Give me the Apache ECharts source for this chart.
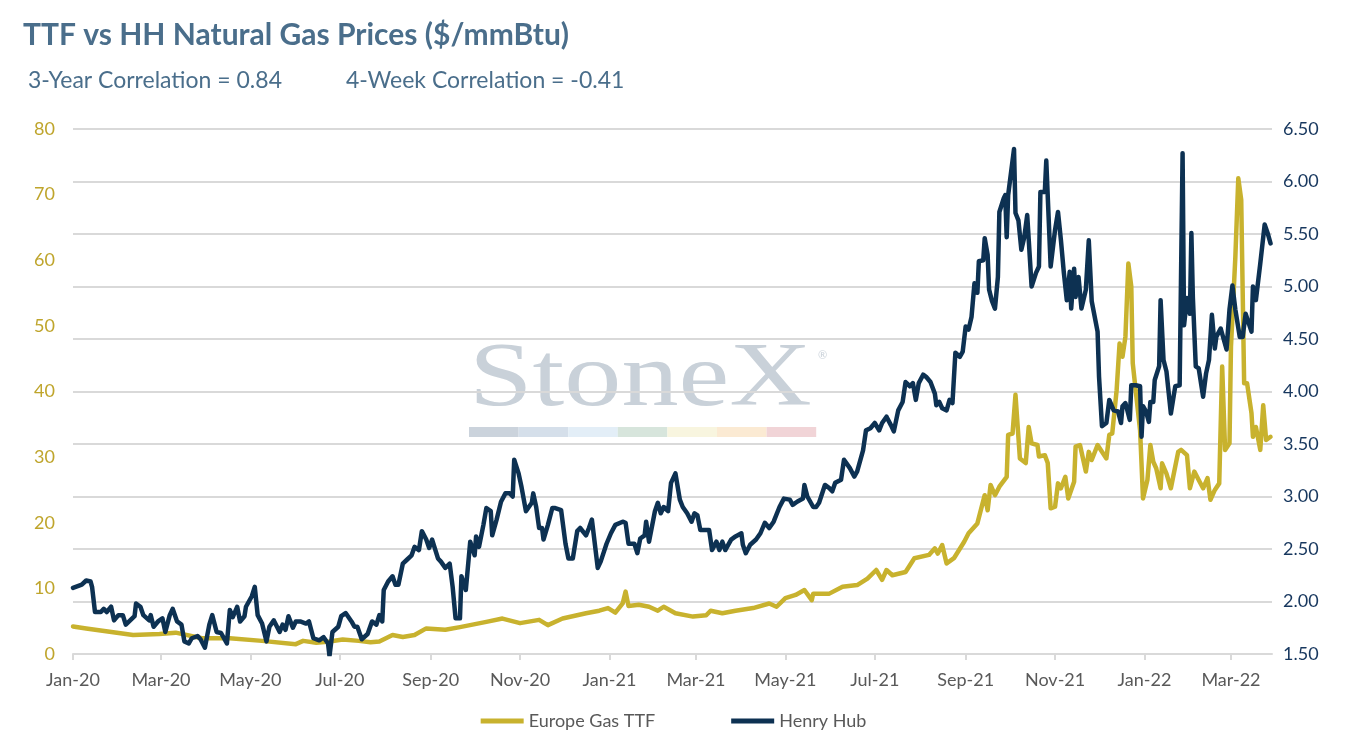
<!DOCTYPE html>
<html>
<head>
<meta charset="utf-8">
<script src="https://cdn.jsdelivr.net/npm/echarts@6/dist/echarts.min.js"></script>
<style>
html,body{margin:0;padding:0;background:#fff;}
#chart{width:1347px;height:750px;}
</style>
</head>
<body>
<div id="chart"></div>
<script>
// ---- Data ----
const titleText = 'TTF vs HH Natural Gas Prices ($/mmBtu)';
const corr3y = '3-Year Correlation = 0.84';
const corr4w = '4-Week Correlation = -0.41';
const seriesNames = ['Europe Gas TTF', 'Henry Hub'];
const axisStart = '2020-01-01';
const axisEnd = '2022-03-29';
const monthNames = ['Jan','Feb','Mar','Apr','May','Jun','Jul','Aug','Sep','Oct','Nov','Dec'];
const ttfTicks = [0,10,20,30,40,50,60,70,80];
const hhTicks = [1.5,2,2.5,3,3.5,4,4.5,5,5.5,6,6.5];

const ttfDates = [
'2020-01-01','2020-01-10','2020-01-26','2020-02-11','2020-02-29','2020-03-11','2020-03-29','2020-04-17','2020-05-09','2020-06-01',
'2020-06-06','2020-06-15','2020-06-24','2020-07-03','2020-07-14','2020-07-22','2020-07-28','2020-08-06','2020-08-13','2020-08-21',
'2020-08-29','2020-09-11','2020-09-21','2020-10-09','2020-10-20','2020-11-01','2020-11-14','2020-11-20','2020-11-30','2020-12-16',
'2020-12-25','2020-12-31','2021-01-05','2021-01-10','2021-01-12','2021-01-14','2021-01-21','2021-01-28','2021-02-03','2021-02-07',
'2021-02-15','2021-02-27','2021-03-08','2021-03-11','2021-03-19','2021-03-28','2021-04-09','2021-04-20','2021-04-25','2021-05-01',
'2021-05-08','2021-05-14','2021-05-19','2021-05-20','2021-05-31','2021-06-09','2021-06-19','2021-06-26','2021-07-02','2021-07-06',
'2021-07-09','2021-07-13','2021-07-22','2021-07-28','2021-08-07','2021-08-11','2021-08-13','2021-08-16','2021-08-19','2021-08-24',
'2021-08-31','2021-09-03','2021-09-09','2021-09-14','2021-09-16','2021-09-18','2021-09-21','2021-09-24','2021-09-29','2021-09-30',
'2021-10-03','2021-10-05','2021-10-08','2021-10-12','2021-10-14','2021-10-16','2021-10-20','2021-10-21','2021-10-25','2021-10-27',
'2021-10-29','2021-11-01','2021-11-03','2021-11-05','2021-11-08','2021-11-10','2021-11-14','2021-11-15','2021-11-18','2021-11-22',
'2021-11-24','2021-11-26','2021-11-30','2021-12-06','2021-12-08','2021-12-10','2021-12-13','2021-12-15','2021-12-17','2021-12-19',
'2021-12-21','2021-12-23','2021-12-24','2021-12-26','2021-12-29','2021-12-31','2022-01-03','2022-01-05','2022-01-07','2022-01-09',
'2022-01-12','2022-01-13','2022-01-16','2022-01-19','2022-01-24','2022-01-26','2022-01-30','2022-02-01','2022-02-04','2022-02-07',
'2022-02-10','2022-02-13','2022-02-15','2022-02-18','2022-02-21','2022-02-23','2022-02-25','2022-02-28','2022-03-01','2022-03-04',
'2022-03-06','2022-03-08','2022-03-10','2022-03-12','2022-03-15','2022-03-16','2022-03-18','2022-03-21','2022-03-23','2022-03-25',
'2022-03-28'
];
const ttfValues = [
4.2,3.9,3.4,2.9,3.05,3.25,2.4,2.4,2.0,1.5,
2.0,1.7,1.9,2.2,2.0,1.8,1.9,2.9,2.6,2.9,
3.9,3.7,4.1,4.9,5.4,4.7,5.2,4.4,5.4,6.2,
6.6,7.0,6.3,7.7,9.5,7.3,7.5,7.2,6.6,7.2,
6.2,5.7,5.9,6.6,6.2,6.6,7.0,7.7,7.2,8.5,
9.0,9.75,8.2,9.2,9.2,10.25,10.5,11.5,12.8,11.3,
12.8,12.0,12.5,14.6,15.1,16.1,15.3,16.6,13.8,14.6,
17.1,18.4,19.9,24.2,21.9,25.75,24.2,25.5,27.0,33.4,
33.6,39.5,29.8,29.1,34.6,32.1,31.85,30.1,30.3,29.1,
22.2,22.45,26.0,25.25,27.0,23.7,26.25,31.6,31.85,27.8,
30.8,29.56,31.85,29.8,33.4,33.6,40.2,47.3,45.3,48.35,
59.5,56.0,44.3,40.2,34.1,23.7,26.5,31.85,29.3,28.3,
25.25,29.06,27.5,25.25,30.8,31.1,30.3,25.25,27.8,26.5,
25.25,26.8,23.5,25.0,26.0,43.8,31.1,32.1,46.8,60.5,
72.5,69.2,41.25,41.25,36.7,33.1,34.6,31.1,37.9,32.6,
33.1
];

const hhDates = [
'2020-01-01','2020-01-07','2020-01-10','2020-01-13','2020-01-14','2020-01-16','2020-01-20','2020-01-22','2020-01-24','2020-01-27',
'2020-01-29','2020-02-01','2020-02-04','2020-02-06','2020-02-09','2020-02-12','2020-02-13','2020-02-16','2020-02-18','2020-02-22',
'2020-02-23','2020-02-25','2020-02-28','2020-03-02','2020-03-04','2020-03-07','2020-03-09','2020-03-12','2020-03-15','2020-03-17',
'2020-03-20','2020-03-22','2020-03-26','2020-03-28','2020-03-31','2020-04-03','2020-04-05','2020-04-08','2020-04-11','2020-04-15',
'2020-04-17','2020-04-19','2020-04-22','2020-04-24','2020-04-27','2020-04-28','2020-05-02','2020-05-04','2020-05-06','2020-05-09',
'2020-05-12','2020-05-14','2020-05-17','2020-05-21','2020-05-23','2020-05-25','2020-05-27','2020-05-30','2020-06-01','2020-06-04',
'2020-06-08','2020-06-10','2020-06-13','2020-06-17','2020-06-20','2020-06-23','2020-06-24','2020-06-26','2020-06-30','2020-07-02',
'2020-07-05','2020-07-09','2020-07-11','2020-07-13','2020-07-16','2020-07-20','2020-07-23','2020-07-26','2020-07-28','2020-07-30',
'2020-07-31','2020-08-03','2020-08-06','2020-08-08','2020-08-10','2020-08-13','2020-08-16','2020-08-19','2020-08-21','2020-08-24',
'2020-08-26','2020-08-29','2020-08-31','2020-09-02','2020-09-06','2020-09-08','2020-09-11','2020-09-14','2020-09-16','2020-09-18',
'2020-09-21','2020-09-22','2020-09-25','2020-09-28','2020-10-01','2020-10-02','2020-10-04','2020-10-07','2020-10-09','2020-10-12',
'2020-10-13','2020-10-16','2020-10-19','2020-10-22','2020-10-25','2020-10-27','2020-10-28','2020-10-31','2020-11-02','2020-11-05',
'2020-11-09','2020-11-10','2020-11-12','2020-11-14','2020-11-16','2020-11-17','2020-11-20','2020-11-23','2020-11-25','2020-11-29',
'2020-12-02','2020-12-04','2020-12-07','2020-12-10','2020-12-12','2020-12-16','2020-12-18','2020-12-20','2020-12-24','2020-12-26',
'2020-12-30','2021-01-02','2021-01-05','2021-01-10','2021-01-12','2021-01-14','2021-01-18','2021-01-20','2021-01-22','2021-01-25',
'2021-01-26','2021-01-28','2021-02-01','2021-02-03','2021-02-05','2021-02-07','2021-02-10','2021-02-12','2021-02-15','2021-02-18',
'2021-02-20','2021-02-23','2021-02-26','2021-02-28','2021-03-02','2021-03-04','2021-03-08','2021-03-10','2021-03-12','2021-03-15',
'2021-03-17','2021-03-19','2021-03-21','2021-03-25','2021-03-28','2021-04-01','2021-04-02','2021-04-04','2021-04-07','2021-04-11',
'2021-04-14','2021-04-17','2021-04-20','2021-04-23','2021-04-27','2021-04-30','2021-05-04','2021-05-06','2021-05-09','2021-05-13',
'2021-05-14','2021-05-16','2021-05-20','2021-05-22','2021-05-24','2021-05-28','2021-05-31','2021-06-02','2021-06-04','2021-06-08',
'2021-06-10','2021-06-14','2021-06-17','2021-06-19','2021-06-23','2021-06-25','2021-06-28','2021-07-01','2021-07-04','2021-07-06',
'2021-07-09','2021-07-12','2021-07-14','2021-07-17','2021-07-20','2021-07-22','2021-07-25','2021-07-27','2021-07-29','2021-07-31',
'2021-08-03','2021-08-05','2021-08-08','2021-08-11','2021-08-12','2021-08-14','2021-08-16','2021-08-19','2021-08-21','2021-08-23',
'2021-08-25','2021-08-28','2021-08-30','2021-09-01','2021-09-03','2021-09-05','2021-09-07','2021-09-09','2021-09-10','2021-09-13',
'2021-09-14','2021-09-16','2021-09-17','2021-09-19','2021-09-21','2021-09-23','2021-09-24','2021-09-27','2021-09-28','2021-09-29',
'2021-09-30','2021-10-04','2021-10-05','2021-10-07','2021-10-09','2021-10-11','2021-10-13','2021-10-16','2021-10-19','2021-10-21',
'2021-10-22','2021-10-25','2021-10-26','2021-10-27','2021-10-29','2021-11-01','2021-11-03','2021-11-05','2021-11-07','2021-11-09',
'2021-11-11','2021-11-12','2021-11-14','2021-11-15','2021-11-17','2021-11-19','2021-11-22','2021-11-24','2021-11-26','2021-11-30',
'2021-12-01','2021-12-03','2021-12-06','2021-12-08','2021-12-11','2021-12-14','2021-12-16','2021-12-17','2021-12-19','2021-12-22',
'2021-12-23','2021-12-26','2021-12-29','2021-12-30','2021-12-31','2022-01-02','2022-01-04','2022-01-05','2022-01-07','2022-01-08',
'2022-01-11','2022-01-12','2022-01-14','2022-01-16','2022-01-19','2022-01-22','2022-01-25','2022-01-27','2022-01-28','2022-01-30',
'2022-02-01','2022-02-02','2022-02-03','2022-02-05','2022-02-07','2022-02-10','2022-02-12','2022-02-14','2022-02-16','2022-02-18',
'2022-02-19','2022-02-22','2022-02-26','2022-02-28','2022-03-02','2022-03-04','2022-03-07','2022-03-09','2022-03-11','2022-03-15',
'2022-03-16','2022-03-18','2022-03-21','2022-03-24','2022-03-26','2022-03-28'
];
const hhValues = [
2.13,2.16,2.20,2.19,2.14,1.90,1.90,1.93,1.90,1.95,
1.82,1.87,1.87,1.78,1.82,1.86,1.98,1.95,1.87,1.82,
1.87,1.76,1.81,1.84,1.71,1.87,1.93,1.81,1.78,1.62,
1.60,1.65,1.67,1.64,1.56,1.78,1.87,1.71,1.70,1.60,
1.92,1.85,1.95,1.81,1.86,1.95,2.05,2.14,1.87,1.79,
1.62,1.76,1.82,1.71,1.78,1.73,1.86,1.75,1.81,1.81,
1.79,1.81,1.65,1.63,1.66,1.60,1.48,1.71,1.76,1.86,
1.89,1.81,1.76,1.76,1.64,1.69,1.81,1.78,1.87,1.81,
2.11,2.19,2.24,2.16,2.16,2.36,2.40,2.44,2.52,2.49,
2.67,2.59,2.51,2.59,2.41,2.38,2.32,2.36,2.14,1.84,
1.84,2.24,2.11,2.57,2.44,2.62,2.52,2.73,2.89,2.86,
2.63,2.78,2.95,3.03,3.03,3.00,3.35,3.22,3.09,2.86,
2.94,3.03,2.90,2.70,2.70,2.59,2.73,2.89,2.89,2.87,
2.55,2.41,2.41,2.67,2.70,2.63,2.70,2.78,2.32,2.38,
2.55,2.65,2.73,2.76,2.75,2.55,2.55,2.46,2.60,2.63,
2.76,2.57,2.86,2.94,2.84,2.90,2.86,3.13,3.22,2.97,
2.90,2.84,2.76,2.84,2.82,2.68,2.68,2.68,2.49,2.57,
2.49,2.57,2.49,2.59,2.62,2.65,2.54,2.46,2.54,2.59,
2.65,2.75,2.70,2.76,2.90,2.98,2.97,2.92,2.95,2.98,
3.11,3.00,2.90,2.90,2.94,3.11,3.08,3.05,3.13,3.16,
3.35,3.27,3.19,3.24,3.44,3.63,3.65,3.70,3.63,3.70,
3.76,3.68,3.62,3.82,3.90,4.09,4.05,4.08,3.92,4.08,
4.16,4.14,4.09,3.98,3.87,3.90,3.84,3.82,3.92,3.89,
4.37,4.33,4.38,4.62,4.59,4.71,5.03,4.94,5.24,5.25,
5.46,5.30,4.97,4.86,4.79,5.09,5.71,5.84,5.87,5.47,
5.87,6.31,5.70,5.63,5.35,5.47,5.68,5.00,5.13,5.19,
5.90,5.90,6.20,5.86,5.19,5.54,5.71,5.44,5.13,4.87,
5.14,4.79,5.17,4.90,5.09,4.79,4.97,5.44,4.86,4.57,
4.14,3.67,3.70,3.92,3.82,3.81,3.70,3.86,3.89,3.73,
4.06,4.06,4.05,3.57,3.86,3.81,3.71,3.90,3.90,4.11,
4.24,4.87,4.30,4.19,3.79,4.05,4.06,6.27,4.63,4.89,
4.74,5.51,4.90,4.24,4.22,3.95,4.17,4.30,4.73,4.41,
4.52,4.60,4.40,4.78,5.01,4.78,4.52,4.52,4.74,4.57,
5.00,4.87,5.22,5.59,5.51,5.41
];

// ---- Build daily categories for the date axis ----
function buildDays(startStr, endStr) {
  const out = [];
  const s = new Date(startStr + 'T00:00:00Z');
  const e = new Date(endStr + 'T00:00:00Z');
  for (let t = s.getTime(); t <= e.getTime(); t += 86400000) {
    out.push(new Date(t).toISOString().slice(0, 10));
  }
  return out;
}
const categories = buildDays(axisStart, axisEnd);
const isLabelDay = (idx, val) => val.slice(8) === '01' && (parseInt(val.slice(5, 7), 10) % 2 === 1);
const fmtMonth = (val) => monthNames[parseInt(val.slice(5, 7), 10) - 1] + '-' + val.slice(2, 4);

const ttfData = ttfDates.map((d, i) => [d, ttfValues[i]]);
const hhData = hhDates.map((d, i) => [d, hhValues[i]]);

const GOLD = '#c8b22e';
const NAVY = '#0d3152';
const TITLE_C = '#4a6e8b';
const GRID_C = '#d9d9d9';
const FONT = 'Lato';

const chart = echarts.init(document.getElementById('chart'), null, { renderer: 'canvas' });

const wmColors = ['#cbd3dc','#d5dfea','#e3eef7','#d7e5dc','#f8f5df','#fbead3','#f1d4d7'];
const graphics = [
  { type: 'text', left: 23, top: 20, z: 10,
    style: { text: titleText, fill: TITLE_C, font: 'bold 30px ' + FONT } },
  { type: 'text', left: 28, top: 69, z: 10,
    style: { text: corr3y, fill: TITLE_C, font: '23px ' + FONT } },
  { type: 'text', left: 346, top: 69, z: 10,
    style: { text: corr4w, fill: TITLE_C, font: '23px ' + FONT } },
  // StoneX watermark (behind the grid)
  { type: 'text', x: 469, y: 426, scaleX: 1.27, scaleY: 1, z: -10, silent: true,
    style: { text: 'StoneX', fill: '#c9d1d9', font: '90px "Liberation Serif"', textAlign: 'left', textVerticalAlign: 'bottom' } },
  { type: 'text', x: 818, y: 355, z: -10, silent: true,
    style: { text: '®', fill: '#c9d1d9', font: '11px ' + FONT, textAlign: 'left', textVerticalAlign: 'middle' } }
];
wmColors.forEach((c, i) => {
  graphics.push({ type: 'rect', z: -10, silent: true,
    shape: { x: 469 + i * 49.6, y: 427, width: 49.6, height: 10 },
    style: { fill: c } });
});

chart.setOption({
  animation: false,
  backgroundColor: '#ffffff',
  textStyle: { fontFamily: FONT },
  graphic: graphics,
  grid: { left: 73, right: 75, top: 129, bottom: 96, containLabel: false },
  legend: {
    data: seriesNames,
    bottom: 15,
    left: 'center',
    icon: 'rect',
    itemWidth: 43,
    itemHeight: 5,
    itemGap: 76,
    textStyle: { color: '#595959', fontSize: 18, fontFamily: FONT }
  },
  xAxis: {
    type: 'category',
    data: categories,
    boundaryGap: false,
    axisLine: { lineStyle: { color: GRID_C, width: 2 } },
    axisTick: { show: true, interval: isLabelDay, length: 6, lineStyle: { color: GRID_C, width: 2 } },
    axisLabel: { interval: isLabelDay, formatter: fmtMonth, color: '#595959', fontSize: 18, margin: 17, fontFamily: FONT },
    splitLine: { show: false }
  },
  yAxis: [
    {
      type: 'value', position: 'left', min: ttfTicks[0], max: ttfTicks[ttfTicks.length - 1], interval: 10,
      axisLine: { show: false }, axisTick: { show: false }, splitLine: { show: false },
      axisLabel: { color: '#bfa52c', fontSize: 18, margin: 18, fontFamily: FONT }
    },
    {
      type: 'value', position: 'right', min: hhTicks[0], max: hhTicks[hhTicks.length - 1], interval: 0.5,
      axisLine: { show: false }, axisTick: { show: false },
      splitLine: { show: true, lineStyle: { color: GRID_C, width: 2 } },
      axisLabel: { color: '#17375e', fontSize: 18, margin: 11, fontFamily: FONT,
        formatter: (v) => v.toFixed(2) }
    }
  ],
  series: [
    {
      name: seriesNames[0], type: 'line', yAxisIndex: 0, data: ttfData,
      showSymbol: false, symbol: 'none',
      lineStyle: { color: GOLD, width: 4.5, join: 'round', cap: 'round' },
      itemStyle: { color: GOLD }, z: 3
    },
    {
      name: seriesNames[1], type: 'line', yAxisIndex: 1, data: hhData,
      showSymbol: false, symbol: 'none',
      lineStyle: { color: NAVY, width: 4.5, join: 'round', cap: 'round' },
      itemStyle: { color: NAVY }, z: 4
    }
  ]
});
</script>
</body>
</html>
